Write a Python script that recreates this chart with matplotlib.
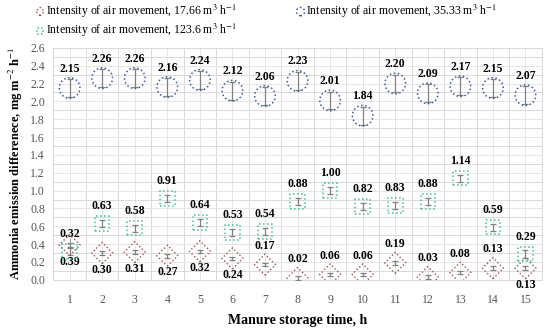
import numpy as np
import matplotlib
matplotlib.use('Agg')
import matplotlib.pyplot as plt

plt.rcParams['font.family'] = ['Liberation Serif', 'DejaVu Serif']
plt.rcParams['mathtext.fontset'] = 'stix'

hours = list(range(1, 16))
low = [0.39, 0.30, 0.31, 0.27, 0.32, 0.24, 0.17, 0.02, 0.06, 0.06, 0.19, 0.03, 0.08, 0.13, 0.13]
mid = [2.15, 2.26, 2.26, 2.16, 2.24, 2.12, 2.06, 2.23, 2.01, 1.84, 2.20, 2.09, 2.17, 2.15, 2.07]
high = [0.32, 0.63, 0.58, 0.91, 0.64, 0.53, 0.54, 0.88, 1.00, 0.82, 0.83, 0.88, 1.14, 0.59, 0.29]
low_err = [0.02] * 15
mid_err = [0.1] * 15
high_err = [0.04] * 15
series_names = ['Intensity of air movement, 17.66 m$^3$ h$^{-1}$',
                'Intensity of air movement, 35.33 m$^3$ h$^{-1}$',
                'Intensity of air movement, 123.6 m$^3$ h$^{-1}$']

c_low = '#a0524d'
c_mid = '#3a5aa0'
c_high = '#2ec88f'

fig = plt.figure(figsize=(5.5, 3.3), dpi=100)
ax = fig.add_axes([0.097, 0.152, 0.888, 0.703])

# errorbars (inside markers)
for y, e in [(low, low_err), (mid, mid_err), (high, high_err)]:
    ax.errorbar(hours, y, yerr=e, fmt='none', ecolor='#808080', elinewidth=0.9,
                capsize=2.2, capthick=0.9, zorder=3)

h_low = ax.scatter(hours, low, marker='D', s=115, facecolors='none', edgecolors=c_low,
                   linewidths=1.0, linestyles=':', zorder=4)
h_mid = ax.scatter(hours, mid, marker='o', s=220, facecolors='none', edgecolors=c_mid,
                   linewidths=1.1, linestyles=':', zorder=4)
h_high = ax.scatter(hours, high, marker='s', s=110, facecolors='none', edgecolors=c_high,
                    linewidths=1.1, linestyles=':', zorder=4)

lab = dict(ha='center', va='center', fontsize=8.5, fontweight='bold', textcoords='offset points')
for x, v in zip(hours, mid):
    ax.annotate(f'{v:.2f}', (x, v), xytext=(0, 14), **lab)
for x, v in zip(hours, high):
    ax.annotate(f'{v:.2f}', (x, v), xytext=(0, 12.5), **lab)
for i, (x, v) in enumerate(zip(hours, low)):
    dy = -12 if (i < 6 or i == 14) else 13.5
    ax.annotate(f'{v:.2f}', (x, v), xytext=(0, dy), **lab)
# leader line for the first 0.32 label
ax.plot([1, 1], [high[0] + 0.08, high[0] + 0.14], color='#808080', lw=0.6, zorder=2)

ax.set_xlim(0.5, 15.5)
ax.set_ylim(0, 2.6)
ax.set_yticks(np.arange(0, 2.61, 0.2))
ax.set_yticklabels([f'{t:.1f}' for t in np.arange(0, 2.61, 0.2)])
ax.set_xticks(hours)
ax.set_xticks(np.arange(0.5, 15.6, 1), minor=True)
ax.set_yticks(np.arange(0.1, 2.6, 0.2), minor=True)
ax.tick_params(which='both', length=0, colors='#555555', labelsize=8.5, pad=6)
ax.tick_params(axis='x', pad=10)
ax.grid(which='major', color='#e6e6e6', lw=0.7)
ax.grid(which='minor', color='#d9d9d9', lw=0.7)
ax.set_axisbelow(True)
for s in ax.spines.values():
    s.set_color('#d9d9d9')
    s.set_linewidth(0.7)

ax.set_xlabel('Manure storage time, h', fontsize=10, fontweight='bold', labelpad=6)
ax.set_ylabel('Ammonia emission differenece, mg m$^{-2}$ h$^{-1}$', fontsize=9,
              fontweight='bold', labelpad=4)

leg = fig.legend([h_low, h_high, h_mid], [series_names[0], series_names[2], series_names[1]],
                 ncol=2, loc='upper left', bbox_to_anchor=(0.045, 1.025), frameon=False,
                 fontsize=8.5, handletextpad=0.1, columnspacing=5.0, labelspacing=0.2,
                 markerscale=0.4, handlelength=0.8, scatterpoints=1)

plt.savefig('out.png', dpi=100)
